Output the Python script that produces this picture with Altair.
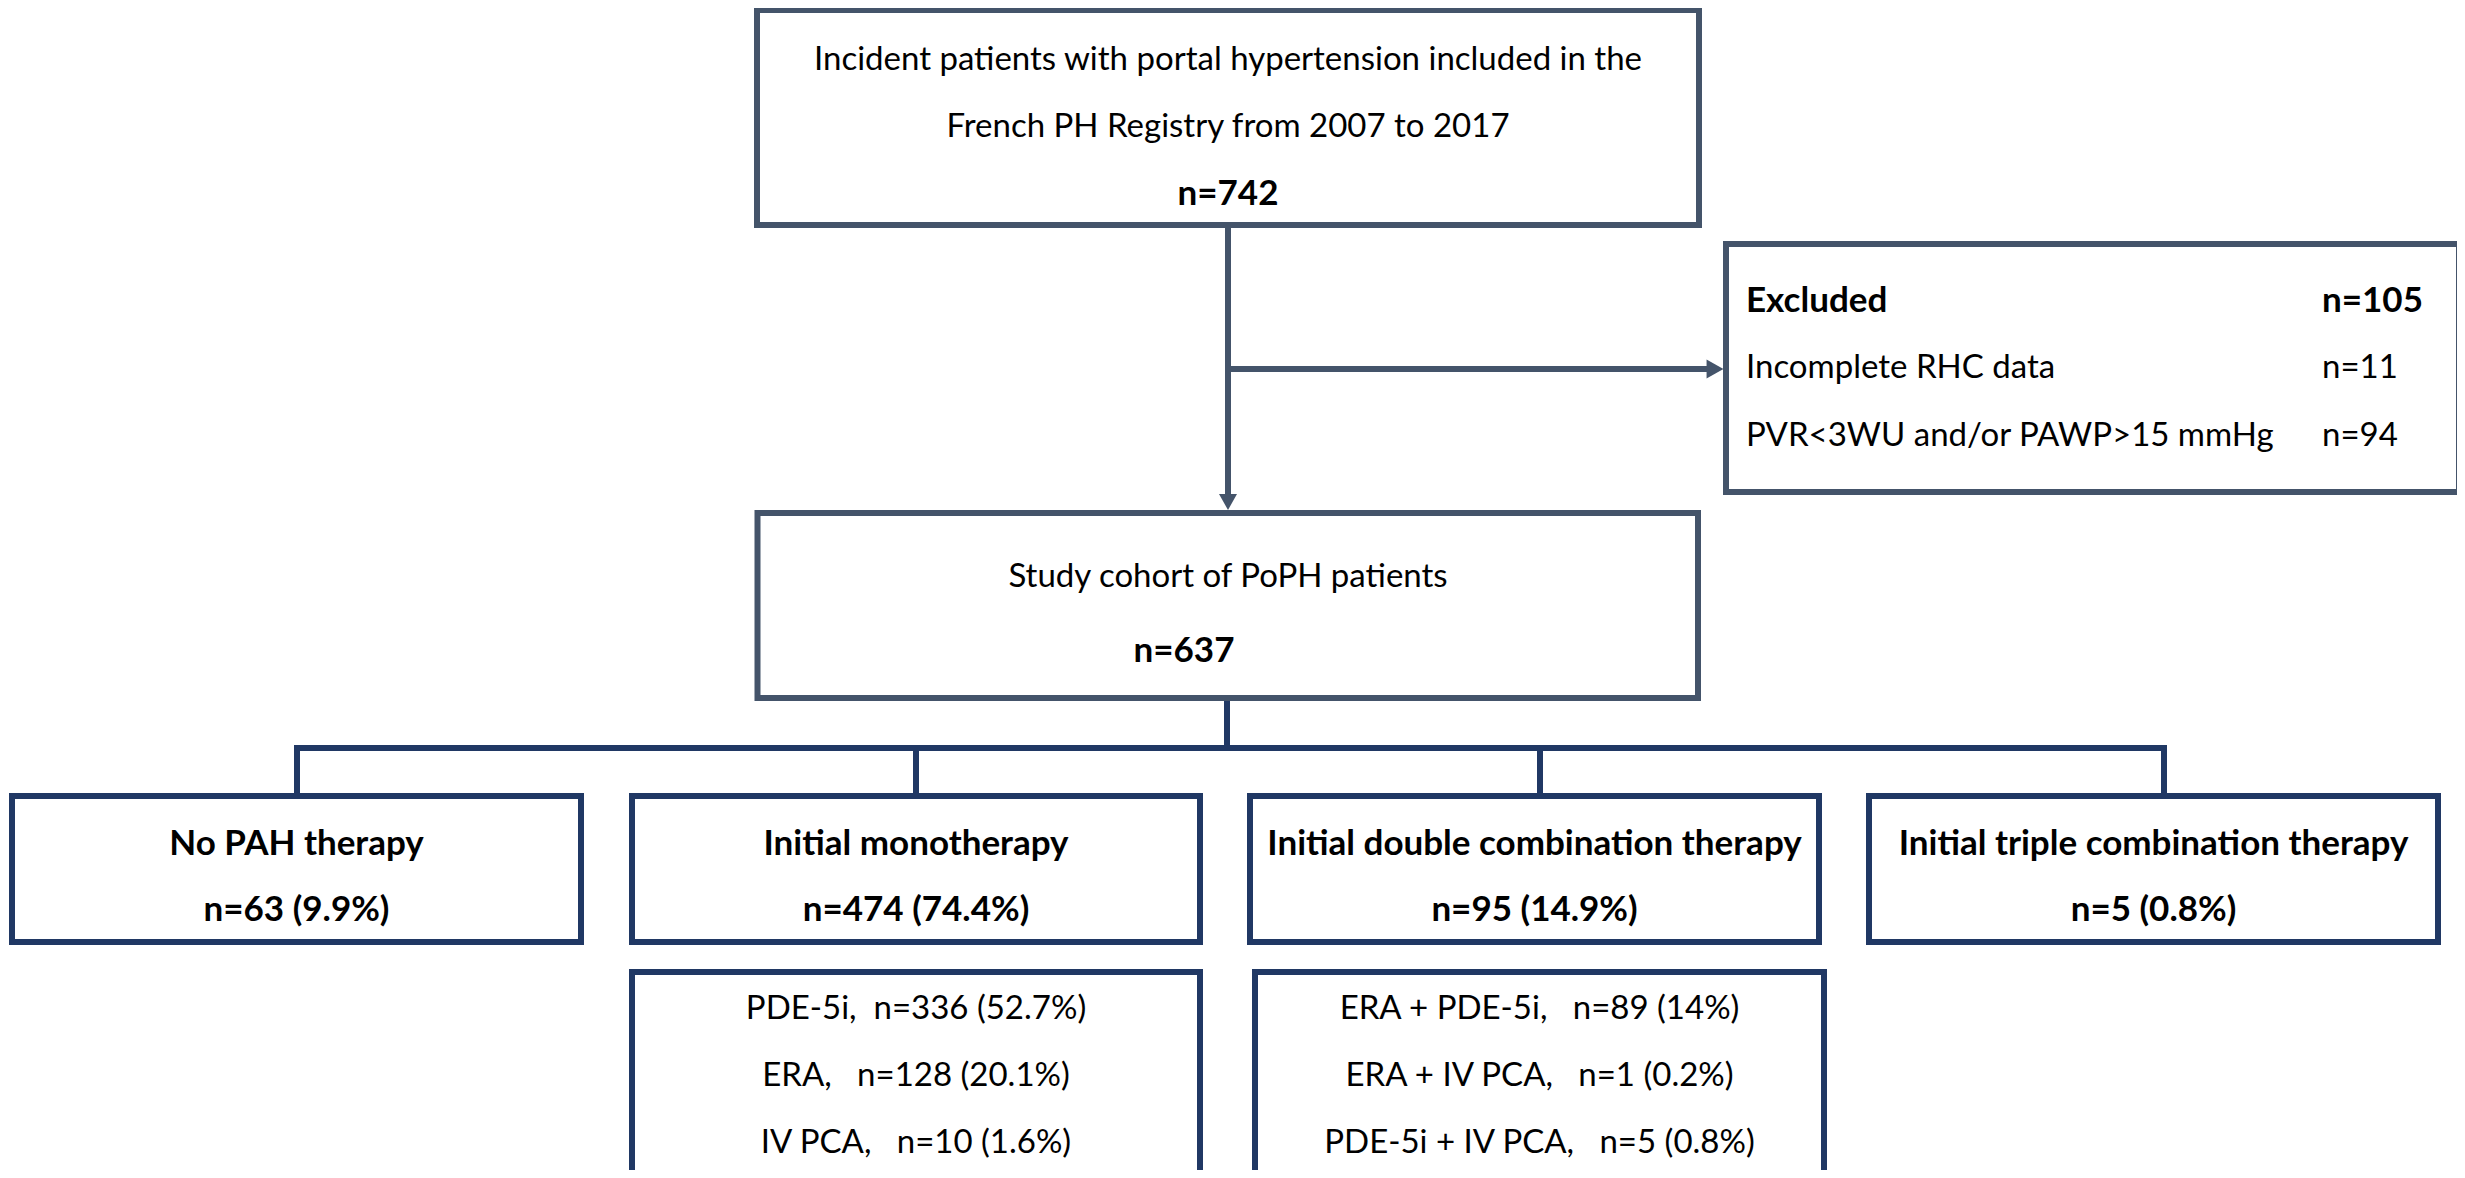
import altair as alt
import pandas as pd

# ---------------- content ----------------
top_lines = ["Incident patients with portal hypertension included in the",
             "French PH Registry from 2007 to 2017"]
n_incident = 742
excluded_total = 105
excluded_reasons = ["Incomplete RHC data", "PVR<3WU and/or PAWP>15 mmHg"]
excluded_n = [11, 94]
cohort_label = "Study cohort of PoPH patients"
n_cohort = 637
groups = ["No PAH therapy", "Initial monotherapy",
          "Initial double combination therapy", "Initial triple combination therapy"]
group_n = [63, 474, 95, 5]
group_pct = ["9.9", "74.4", "14.9", "0.8"]
mono_drugs = ["PDE-5i,", "ERA,", "IV PCA,"]
mono_n = [336, 128, 10]
mono_pct = ["52.7", "20.1", "1.6"]
double_drugs = ["ERA + PDE-5i,", "ERA + IV PCA,", "PDE-5i + IV PCA,"]
double_n = [89, 1, 5]
double_pct = ["14", "0.2", "0.8"]

# ---------------- layout (page pixel coordinates) ----------------
TOP = "#44546A"
NAVY = "#203864"
FONT = "Lato"
FS_N = 33
FS_B = 35
SP = "\u00a0"

grp_left = [12, 632, 1250, 1869]
grp_right = [581, 1200, 1819, 2438]
grp_conn = [297, 916, 1540, 2164]
sub_left = {1: 632, 2: 1255}
sub_right = {1: 1200, 2: 1824}

box_rows = [
    dict(x=757, x2=1699, y=10, y2=225, c=TOP),
    dict(x=1726, x2=2459, y=244, y2=492, c=TOP),
    dict(x=757.5, x2=1698, y=513, y2=698, c=TOP),
]
for i in range(4):
    box_rows.append(dict(x=grp_left[i], x2=grp_right[i], y=796, y2=942, c=NAVY))
for i in (1, 2):
    box_rows.append(dict(x=sub_left[i], x2=sub_right[i], y=972, y2=1200, c=NAVY))
boxes = pd.DataFrame(box_rows)

line_rows = [
    dict(x=1228, x2=1228, y=225, y2=496, c=TOP),
    dict(x=1228, x2=1710, y=369, y2=369, c=TOP),
    dict(x=1227, x2=1227, y=698, y2=748, c=NAVY),
    dict(x=grp_conn[0], x2=grp_conn[-1], y=748, y2=748, c=NAVY),
]
for cx in grp_conn:
    line_rows.append(dict(x=cx, x2=cx, y=748, y2=796, c=NAVY))
lines = pd.DataFrame(line_rows)

arrow_down = pd.DataFrame([dict(x=1228, y=502)])
arrow_right = pd.DataFrame([dict(x=1715, y=369)])

c_norm, c_bold, l_norm, l_bold = [], [], [], []
c_norm.append(dict(x=1228, y=70, t=top_lines[0]))
c_norm.append(dict(x=1228, y=137, t=top_lines[1]))
c_bold.append(dict(x=1228, y=205, t=f"n={n_incident}"))
c_norm.append(dict(x=1228, y=587, t=cohort_label))
c_bold.append(dict(x=1184, y=662, t=f"n={n_cohort}"))
l_bold.append(dict(x=1746, y=312, t="Excluded"))
l_bold.append(dict(x=2322, y=312, t=f"n={excluded_total}"))
for k, (r, n) in enumerate(zip(excluded_reasons, excluded_n)):
    yy = [378, 446][k]
    l_norm.append(dict(x=1746, y=yy, t=r))
    l_norm.append(dict(x=2322, y=yy, t=f"n={n}"))
for i in range(4):
    cx = (grp_left[i] + grp_right[i]) / 2
    c_bold.append(dict(x=cx, y=855, t=groups[i]))
    c_bold.append(dict(x=cx, y=921, t=f"n={group_n[i]} ({group_pct[i]}%)"))
sub_y = [1019, 1086, 1153]
mono_gap = [2, 3, 3]
for k in range(3):
    cx = (sub_left[1] + sub_right[1]) / 2
    c_norm.append(dict(x=cx, y=sub_y[k],
                       t=f"{mono_drugs[k]}{SP * mono_gap[k]}n={mono_n[k]} ({mono_pct[k]}%)"))
    cx = (sub_left[2] + sub_right[2]) / 2
    c_norm.append(dict(x=cx, y=sub_y[k],
                       t=f"{double_drugs[k]}{SP * 3}n={double_n[k]} ({double_pct[k]}%)"))

xs = alt.Scale(domain=[8, 2457], nice=False, zero=False)
ys = alt.Scale(domain=[8, 1170], nice=False, zero=False, reverse=True)


def X(f="x"):
    return alt.X(f"{f}:Q", scale=xs, axis=None)


def Y(f="y"):
    return alt.Y(f"{f}:Q", scale=ys, axis=None)


box_layer = alt.Chart(boxes).mark_rect(fill="white", strokeWidth=6, clip=True).encode(
    x=X(), x2="x2:Q", y=Y(), y2="y2:Q", stroke=alt.Stroke("c:N", scale=None))

line_layer = alt.Chart(lines).mark_rule(strokeWidth=6, strokeCap="square").encode(
    x=X(), x2="x2:Q", y=Y(), y2="y2:Q", color=alt.Color("c:N", scale=None))

ad = alt.Chart(arrow_down).mark_point(
    shape="M-1,-0.89L1,-0.89L0,0.89Z", size=324, filled=True, opacity=1,
    color=TOP, strokeWidth=0).encode(x=X(), y=Y())
ar = alt.Chart(arrow_right).mark_point(
    shape="M-0.89,-1L0.89,0L-0.89,1Z", size=361, filled=True, opacity=1,
    color=TOP, strokeWidth=0).encode(x=X(), y=Y())


def text_layer(rows, align, weight, size):
    return alt.Chart(pd.DataFrame(rows)).mark_text(
        font=FONT, fontSize=size, fontWeight=weight, align=align,
        baseline="alphabetic", color="black").encode(x=X(), y=Y(), text="t:N")


chart = alt.layer(
    line_layer, box_layer, ad, ar,
    text_layer(c_norm, "center", "normal", FS_N),
    text_layer(c_bold, "center", "bold", FS_B),
    text_layer(l_norm, "left", "normal", FS_N),
    text_layer(l_bold, "left", "bold", FS_B),
).properties(
    width=2449, height=1162, autosize=alt.AutoSizeParams(type="none"), padding=0,
    background="white"
).configure_view(stroke=None)

chart.save("out.html", embed_options={"renderer": "svg", "actions": False})
